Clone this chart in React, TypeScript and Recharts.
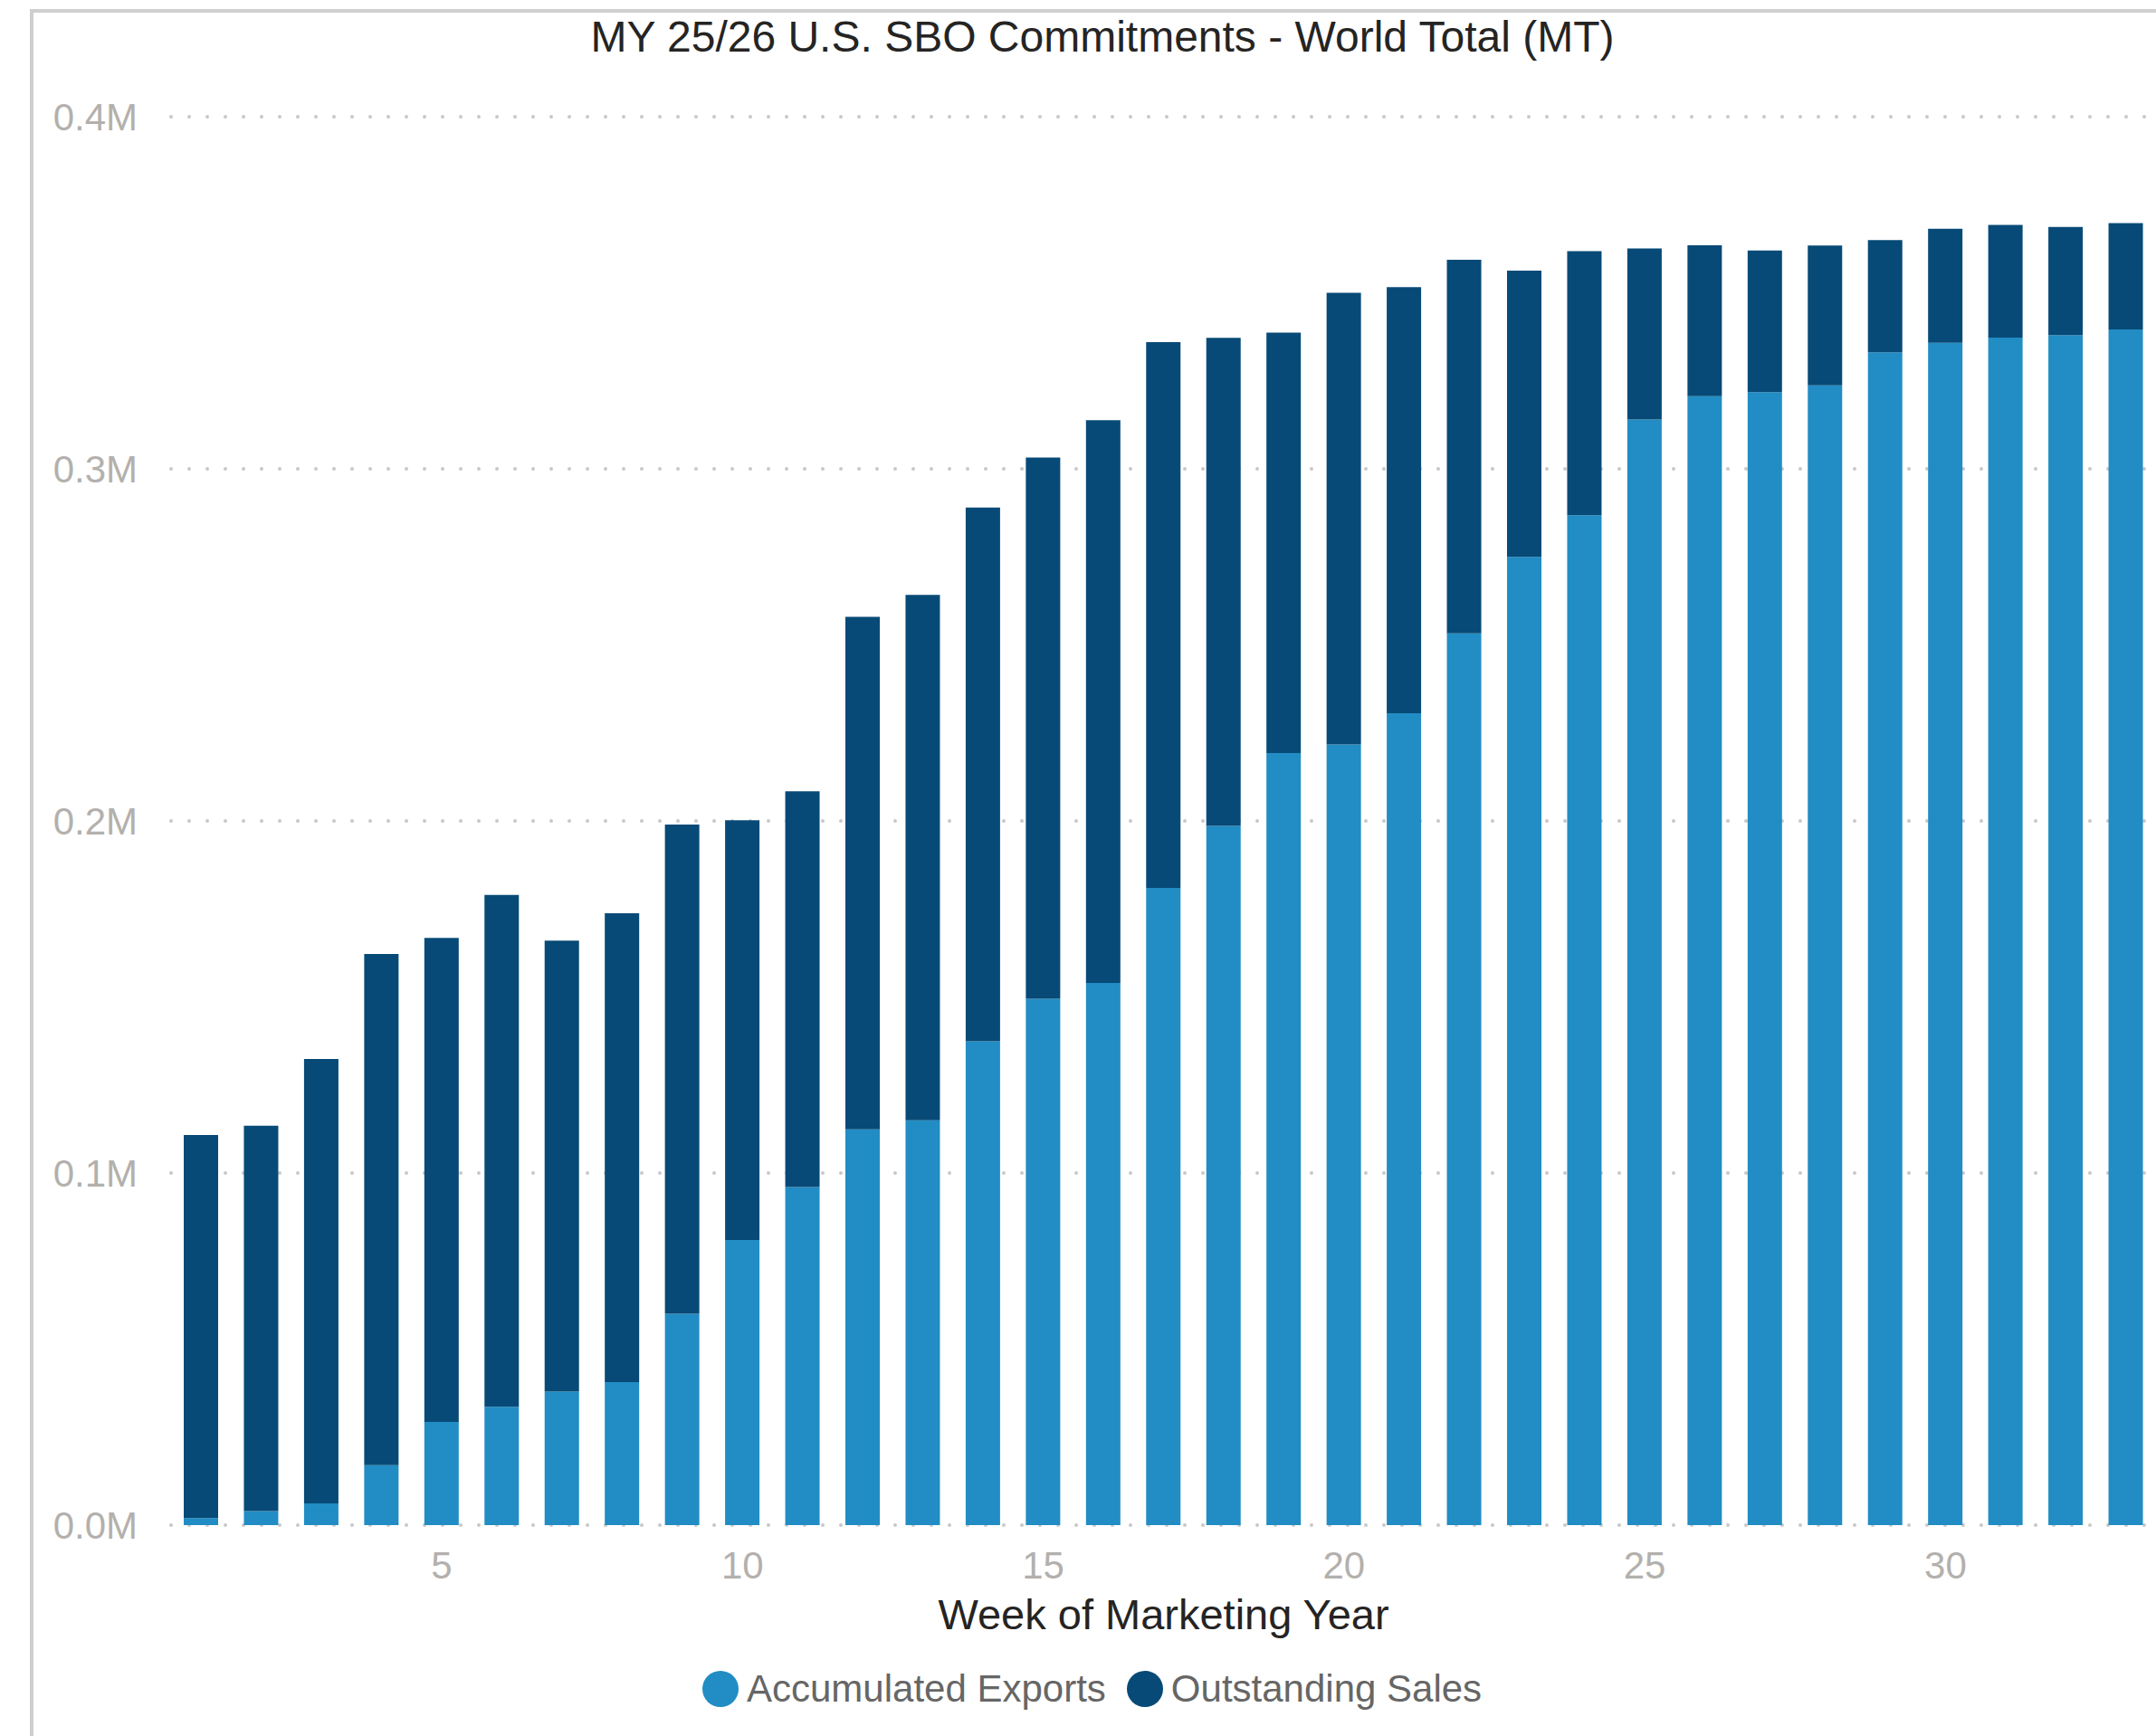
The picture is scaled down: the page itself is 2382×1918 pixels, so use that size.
import { Bar, BarChart, CartesianGrid, XAxis, YAxis } from "recharts";

const weeks = [
  1, 2, 3, 4, 5, 6, 7, 8, 9, 10, 11, 12, 13, 14, 15, 16, 17, 18, 19, 20, 21, 22, 23, 24, 25, 26,
  27, 28, 29, 30, 31, 32, 33,
];

// metric tons
const accumulatedExports = [
  2000, 4000, 6200, 17000, 29300, 33600, 37900, 40600, 60000, 81000, 96000, 112400, 115000,
  137400, 149500, 154000, 181000, 198600, 219300, 221700, 230600, 253300, 275000, 286800, 314000,
  320600, 321800, 323700, 333100, 335800, 337300, 338000, 339600,
];

const outstandingSales = [
  108800, 109400, 126200, 145200, 137500, 145400, 128100, 133200, 139000, 119200, 112400, 145600,
  149200, 151600, 153700, 159800, 155000, 138600, 119400, 128300, 121000, 106100, 81300, 75000,
  48600, 42900, 40200, 39700, 31900, 32400, 32000, 30700, 30200,
];

const yTicks = [0, 100000, 200000, 300000, 400000];

const EXPORTS_COLOR = "#218DC4";
const OUTSTANDING_COLOR = "#074A77";
const FONT = '"Liberation Sans", Arial, sans-serif';

const data = weeks.map((week, i) => ({
  week,
  exports: accumulatedExports[i],
  outstanding: outstandingSales[i],
}));

const legendItems = [
  { label: "Accumulated Exports", color: EXPORTS_COLOR },
  { label: "Outstanding Sales", color: OUTSTANDING_COLOR },
];

export default function App() {
  const tickStyle = { fill: "#B3B0AD", fontSize: 42, fontFamily: FONT };

  return (
    <div
      style={{
        position: "absolute",
        left: 0,
        top: 0,
        width: 2382,
        height: 1918,
        background: "#fff",
        overflow: "hidden",
        fontFamily: FONT,
      }}
    >
      <div
        style={{
          position: "absolute",
          left: 33,
          top: 10,
          width: 2349,
          height: 1908,
          boxSizing: "border-box",
          borderTop: "4px solid #cfcfcf",
          borderLeft: "4px solid #cfcfcf",
        }}
      />
      <div
        style={{
          position: "absolute",
          left: 0,
          top: 17,
          width: 2436,
          textAlign: "center",
          fontSize: 48,
          lineHeight: "48px",
          color: "#252423",
          whiteSpace: "nowrap",
        }}
      >
        MY 25/26 U.S. SBO Commitments - World Total (MT)
      </div>

      <div style={{ position: "absolute", left: 0, top: 0 }}>
        <BarChart
          width={2382}
          height={1918}
          data={data}
          barSize={38}
          margin={{ top: 129, right: 0, bottom: 173, left: 0 }}
        >
          <CartesianGrid
            vertical={false}
            stroke="#c8c8c8"
            strokeWidth={4}
            strokeDasharray="0 20"
            strokeLinecap="round"
          />
          <XAxis
            dataKey="week"
            type="category"
            interval={0}
            axisLine={false}
            tickLine={false}
            tickMargin={23}
            height={60}
            tick={tickStyle}
            tickFormatter={(v: number) => (v % 5 === 0 ? String(v) : "")}
            label={{
              value: "Week of Marketing Year",
              position: "bottom",
              offset: 22,
              fill: "#252423",
              fontSize: 47,
              fontFamily: FONT,
            }}
          />
          <YAxis
            width={189}
            domain={[0, 400000]}
            ticks={yTicks}
            axisLine={false}
            tickLine={false}
            tickMargin={31}
            tick={tickStyle}
            tickFormatter={(v: number) => `${(v / 1000000).toFixed(1)}M`}
          />
          <Bar
            dataKey="exports"
            name="Accumulated Exports"
            stackId="a"
            fill={EXPORTS_COLOR}
            isAnimationActive={false}
          />
          <Bar
            dataKey="outstanding"
            name="Outstanding Sales"
            stackId="a"
            fill={OUTSTANDING_COLOR}
            isAnimationActive={false}
          />
        </BarChart>
      </div>

      <div
        style={{
          position: "absolute",
          left: 776,
          top: 1846,
          height: 40,
          display: "flex",
          alignItems: "center",
        }}
      >
        {legendItems.map((item) => (
          <div key={item.label} style={{ display: "flex", alignItems: "center", marginRight: 23 }}>
            <span
              style={{
                width: 40,
                height: 40,
                borderRadius: "50%",
                background: item.color,
                marginRight: 9,
                display: "inline-block",
              }}
            />
            <span style={{ fontSize: 42, lineHeight: "42px", color: "#666666", whiteSpace: "nowrap" }}>
              {item.label}
            </span>
          </div>
        ))}
      </div>
    </div>
  );
}
